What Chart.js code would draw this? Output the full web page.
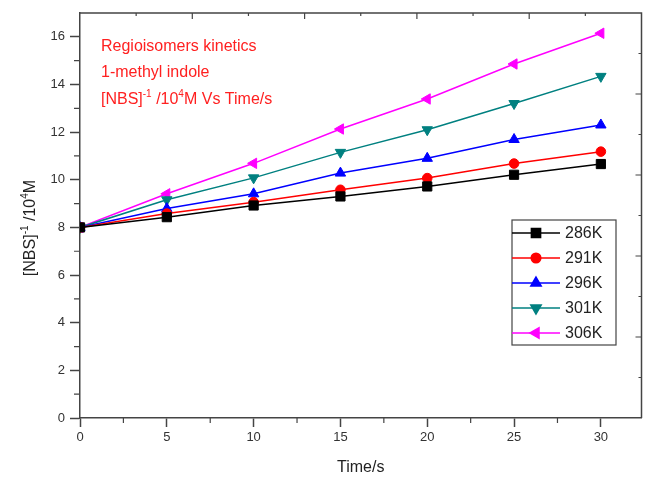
<!DOCTYPE html>
<html lang="en">

<head>
    <meta charset="UTF-8">
    <title>NBS kinetics</title>
    <style>
        body {
            margin: 0;
            background: #fff;
        }

        #myChart {
            display: block;
        }
    </style>
</head>

<body>
    <canvas id="myChart" width="649" height="479"></canvas>

    <script src="https://cdn.jsdelivr.net/npm/chart.js"></script>

    <script>
        // values
        const times = [0, 5, 10, 15, 20, 25, 30];
        const k286 = [8.0, 8.43, 8.92, 9.30, 9.72, 10.21, 10.66];
        const k291 = [8.0, 8.58, 9.06, 9.58, 10.07, 10.68, 11.18];
        const k296 = [8.0, 8.79, 9.41, 10.28, 10.90, 11.69, 12.30];
        const k301 = [8.0, 9.16, 10.08, 11.15, 12.10, 13.20, 14.34];
        const k306 = [8.0, 9.41, 10.69, 12.13, 13.39, 14.86, 16.15];

        const series_labels = ['286K', '291K', '296K', '301K', '306K'];
        const x_ticks = [0, 5, 10, 15, 20, 25, 30];
        const y_ticks = [0, 2, 4, 6, 8, 10, 12, 14, 16];

        const FONT = '"Liberation Sans", Arial, sans-serif';
        const AXIS = '#444';

        function pts(ys) {
            return times.map(function (t, i) { return { x: t, y: ys[i] }; });
        }

        function ds(label, ys, color, style, rot, r) {
            return {
                label: label,
                data: pts(ys),
                borderColor: color,
                backgroundColor: color,
                borderWidth: 1.5,
                pointStyle: style,
                rotation: rot,
                pointRadius: r,
                pointHoverRadius: r,
                pointBorderWidth: 1,
                tension: 0
            };
        }

        // text with superscript pieces: [[text, isSup], ...]
        function drawRich(c, parts, x, y, size) {
            let cx = x;
            parts.forEach(function (p) {
                if (p[1]) {
                    c.font = Math.round(size * 0.62) + 'px ' + FONT;
                    c.fillText(p[0], cx, y - size * 0.45);
                } else {
                    c.font = size + 'px ' + FONT;
                    c.fillText(p[0], cx, y);
                }
                cx += c.measureText(p[0]).width;
            });
            return cx - x;
        }

        function richWidth(c, parts, size) {
            let w = 0;
            parts.forEach(function (p) {
                c.font = (p[1] ? Math.round(size * 0.62) : size) + 'px ' + FONT;
                w += c.measureText(p[0]).width;
            });
            return w;
        }

        const decor = {
            id: 'decor',
            afterDraw: function (chart) {
                const c = chart.ctx;
                const a = chart.chartArea;
                const xs = chart.scales.x;
                const ys = chart.scales.y;
                c.save();

                // frame top + right
                c.strokeStyle = AXIS;
                c.lineWidth = 1.5;
                c.beginPath();
                c.moveTo(a.left, a.top);
                c.lineTo(a.right, a.top);
                c.lineTo(a.right, a.bottom);
                c.stroke();

                // minor ticks
                c.lineWidth = 1.2;
                c.beginPath();
                for (let v = 1; v < 17; v += 2) {
                    const py = ys.getPixelForValue(v);
                    c.moveTo(a.left - 6, py);
                    c.lineTo(a.left, py);
                }
                for (let v = 2.5; v < 32; v += 5) {
                    const px = xs.getPixelForValue(v);
                    c.moveTo(px, a.bottom);
                    c.lineTo(px, a.bottom + 5);
                }
                // top and right axis ticks (0..10 scale)
                for (let i = 1; i < 10; i++) {
                    const px = a.left + (a.right - a.left) * i / 10;
                    const len = (i % 2 === 0) ? 6 : 3;
                    c.moveTo(px, a.top);
                    c.lineTo(px, a.top + len);
                    const py = a.bottom - (a.bottom - a.top) * i / 10;
                    c.moveTo(a.right, py);
                    c.lineTo(a.right - len, py);
                }
                c.stroke();

                // annotation in red
                c.fillStyle = '#ff2020';
                c.textBaseline = 'alphabetic';
                c.textAlign = 'left';
                c.font = '16px ' + FONT;
                c.fillText('Regioisomers kinetics', 101, 51);
                c.fillText('1-methyl indole', 101, 77);
                drawRich(c, [['[NBS]', false], ['-1', true], [' /10', false], ['4', true], ['M Vs Time/s', false]], 101, 104, 16);

                // axis titles
                c.fillStyle = '#222';
                c.font = '16px ' + FONT;
                c.textAlign = 'center';
                c.fillText('Time/s', (a.left + a.right) / 2, 472);

                const yParts = [['[NBS]', false], ['-1', true], [' /10', false], ['4', true], ['M', false]];
                c.save();
                c.translate(35, 228);
                c.rotate(-Math.PI / 2);
                c.textAlign = 'left';
                const w = richWidth(c, yParts, 16);
                drawRich(c, yParts, -w / 2, 0, 16);
                c.restore();

                // legend box
                const bx = 512, by = 220, bw = 104, bh = 125;
                c.strokeStyle = AXIS;
                c.lineWidth = 1.2;
                c.fillStyle = '#fff';
                c.fillRect(bx, by, bw, bh);
                c.strokeRect(bx, by, bw, bh);
                chart.data.datasets.forEach(function (d, i) {
                    const ly = 233 + i * 25;
                    c.strokeStyle = d.borderColor;
                    c.lineWidth = 1.5;
                    c.beginPath();
                    c.moveTo(bx, ly);
                    c.lineTo(bx + 48, ly);
                    c.stroke();
                    c.fillStyle = d.backgroundColor;
                    Chart.helpers.drawPoint(c, {
                        pointStyle: d.pointStyle,
                        radius: d.pointRadius,
                        rotation: d.rotation,
                        borderWidth: 1
                    }, bx + 24, ly);
                    c.fillStyle = '#222';
                    c.font = '16px ' + FONT;
                    c.textAlign = 'left';
                    c.textBaseline = 'middle';
                    c.fillText(d.label, bx + 53, ly + 1);
                });

                c.restore();
            }
        };

        const ctx = document.getElementById('myChart');

        let config = {
            type: 'line',
            data: {
                datasets: [
                    ds(series_labels[0], k286, '#000000', 'rect', 0, 6.5),
                    ds(series_labels[1], k291, '#ff0000', 'circle', 0, 4.8),
                    ds(series_labels[2], k296, '#0000ff', 'triangle', 0, 6),
                    ds(series_labels[3], k301, '#008080', 'triangle', 180, 6),
                    ds(series_labels[4], k306, '#ff00ff', 'triangle', -90, 6)
                ]
            },
            options: {
                responsive: false,
                animation: false,
                devicePixelRatio: 1,
                layout: { padding: { top: 13, right: 3, left: 0, bottom: 0 } },
                plugins: {
                    legend: { display: false },
                    tooltip: { enabled: false }
                },
                scales: {
                    x: {
                        type: 'linear',
                        min: 0,
                        max: 32.34,
                        afterFit: function (s) {
                            s.height = 61;
                            s.paddingRight = 0;
                            s.paddingLeft = 0;
                        },
                        afterBuildTicks: function (s) {
                            s.ticks = x_ticks.map(function (v) { return { value: v }; });
                        },
                        ticks: {
                            color: '#333',
                            font: { family: FONT, size: 13 },
                            padding: 3,
                            maxRotation: 0
                        },
                        grid: {
                            drawOnChartArea: false,
                            tickLength: 9,
                            tickColor: AXIS,
                            tickWidth: 1.5
                        },
                        border: { color: AXIS, width: 1.5 }
                    },
                    y: {
                        min: 0,
                        max: 17,
                        afterFit: function (s) { s.width = 80; },
                        afterBuildTicks: function (s) {
                            s.ticks = y_ticks.map(function (v) { return { value: v }; });
                        },
                        ticks: {
                            color: '#333',
                            font: { family: FONT, size: 13 },
                            padding: 5
                        },
                        grid: {
                            drawOnChartArea: false,
                            tickLength: 10,
                            tickColor: AXIS,
                            tickWidth: 1.5
                        },
                        border: { color: AXIS, width: 1.5 }
                    }
                }
            },
            plugins: [decor]
        };

        let myChart = new Chart(ctx, config);
    </script>
</body>

</html>
